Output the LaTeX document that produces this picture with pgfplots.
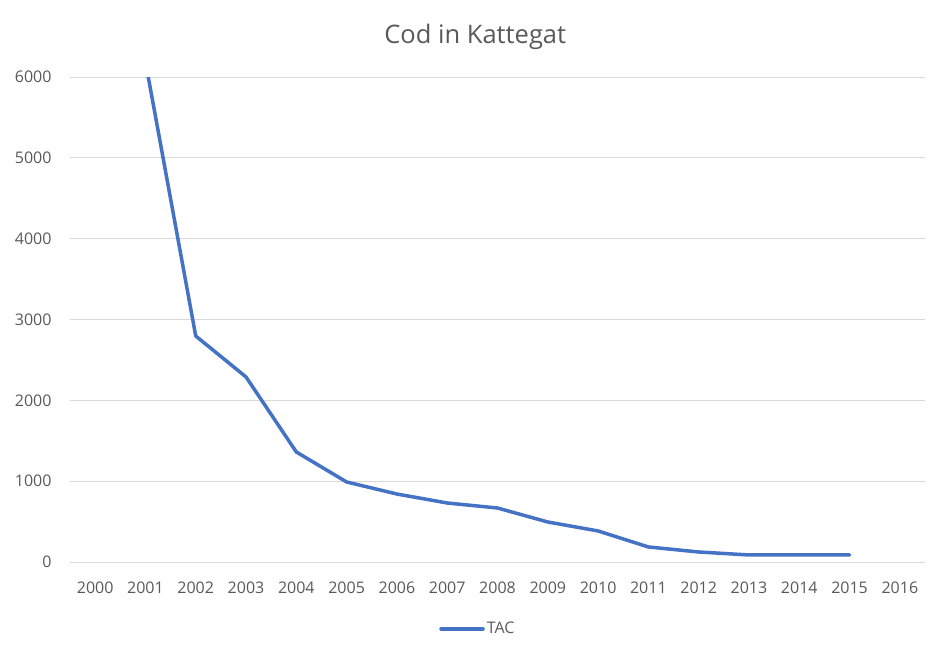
\documentclass[border=0pt]{standalone}
\usepackage{pgfplots}
\pgfplotsset{compat=1.18}
\usepackage{fontspec}
\setmainfont{Open Sans}
\definecolor{txt}{HTML}{595959}
\definecolor{gridc}{HTML}{D9D9D9}
\definecolor{tac}{HTML}{4472C4}
\begin{document}
\begin{tikzpicture}[x=1pt,y=1pt]
\begin{axis}[
  at={(0,0)}, anchor=south west,
  scale only axis,
  width=855pt, height=485pt,
  xmin=-0.5, xmax=16.5,
  ymin=0, ymax=6000,
  xtick={0,...,16},
  xticklabels={2000,2001,2002,2003,2004,2005,2006,2007,2008,2009,2010,2011,2012,2013,2014,2015,2016},
  ytick={0,1000,...,6000},
  xmajorgrids=false,
  ymajorgrids=true,
  major grid style={draw=gridc, line width=1pt},
  axis line style={draw=none},
  major tick length=0pt,
  tick label style={font=\fontsize{16}{19}\selectfont, text=txt},
  xticklabel style={yshift=-16pt},
  yticklabel style={xshift=-15pt},
  /pgf/number format/assume math mode=true,
  /pgf/number format/1000 sep={},
  scaled y ticks=false,
  clip mode=individual,
  legend style={draw=none, at={(0.477,-0.138)}, anchor=center,
    font=\fontsize{16}{19}\selectfont, text=txt},
  legend image code/.code={\draw[#1, line cap=round] (0pt,0pt) -- (42pt,0pt);},
]
\addplot[draw=tac, line width=3.5pt, line join=round, line cap=round] coordinates {
  (1,6190) (2,2796) (3,2289) (4,1361) (5,990) (6,841) (7,730) (8,668)
  (9,495) (10,384) (11,186) (12,124) (13,87) (14,87) (15,87)
};
\addlegendentry{TAC}
\draw[gridc, line width=1pt] (axis cs:-0.5,0) -- (axis cs:16.5,0);
\node[text=txt, font=\fontsize{25.5}{29}\selectfont] at (rel axis cs:0.474,1) [yshift=40pt] {Cod in Kattegat};
\end{axis}
\useasboundingbox (-70,-97) rectangle (880,562);
\end{tikzpicture}
\end{document}
